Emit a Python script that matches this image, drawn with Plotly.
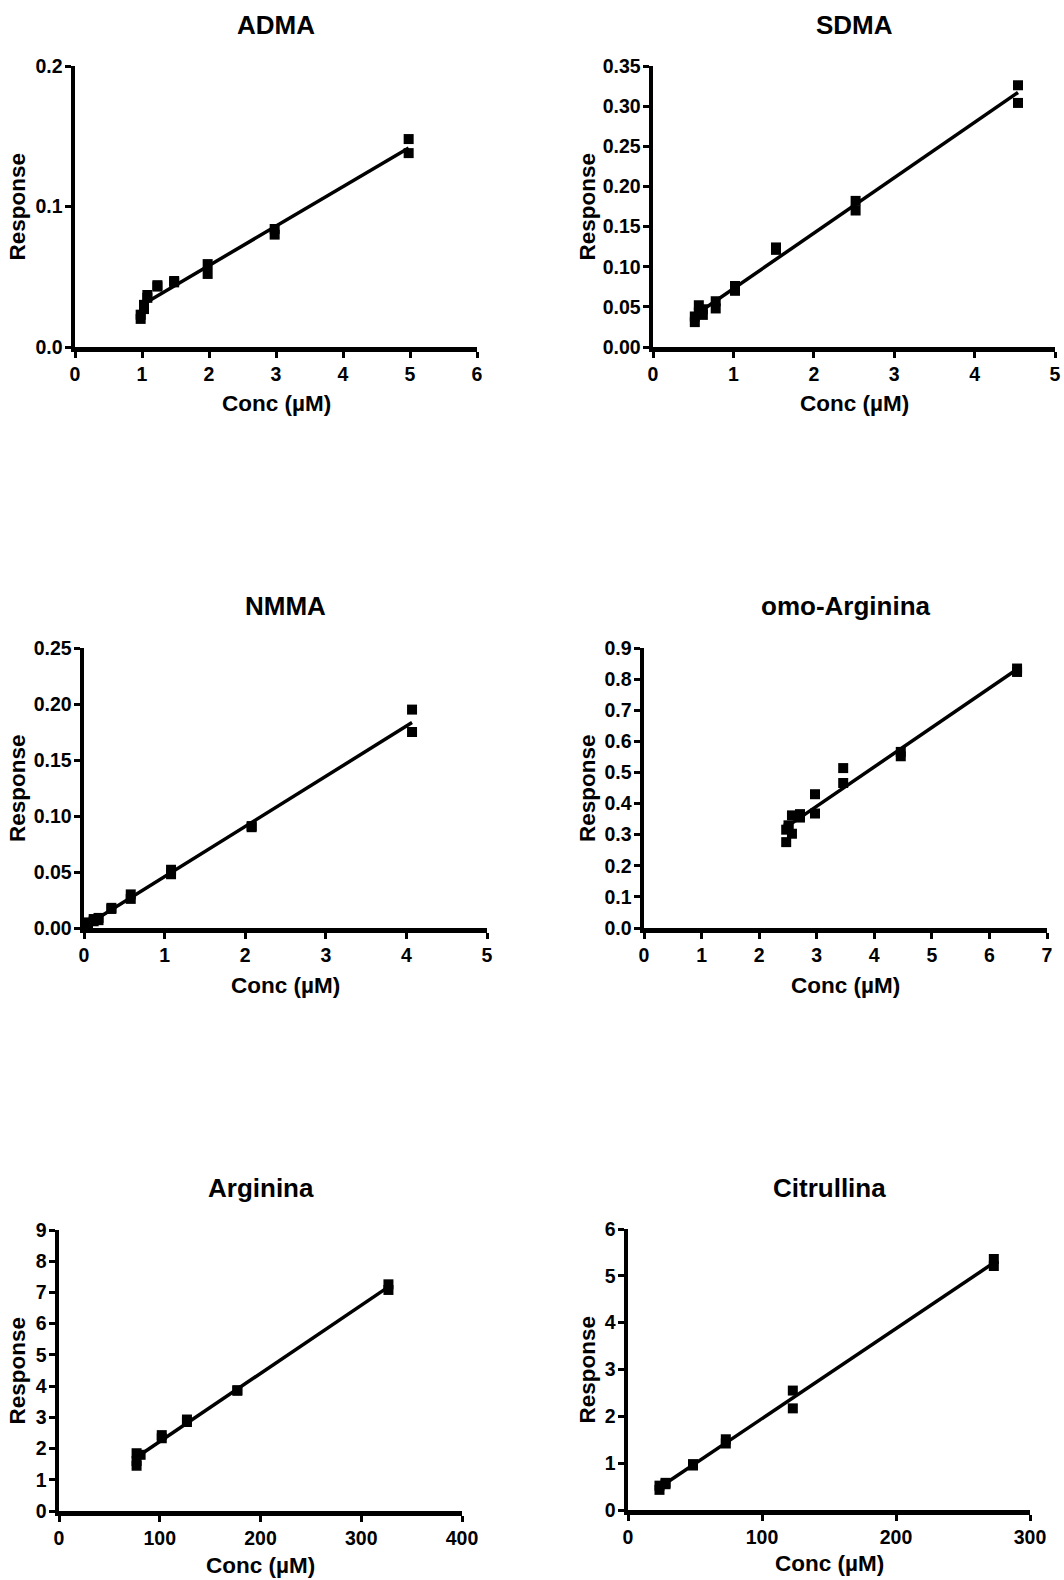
import numpy as np
import plotly.graph_objects as go

# ---------------- data ----------------
titles = ["ADMA", "SDMA", "NMMA", "omo-Arginina", "Arginina", "Citrullina"]
x_label = "Conc (µM)"
y_label = "Response"

adma_conc = [0.98, 0.98, 1.03, 1.03, 1.08, 1.08, 1.23, 1.23, 1.48, 1.48, 1.98, 1.98, 2.98, 2.98, 4.98, 4.98]
adma_resp = [0.020, 0.023, 0.027, 0.030, 0.035, 0.037, 0.043, 0.044, 0.046, 0.047, 0.052, 0.059, 0.080, 0.084, 0.138, 0.148]

sdma_conc = [0.52, 0.52, 0.57, 0.57, 0.62, 0.62, 0.78, 0.78, 1.02, 1.02, 1.53, 1.53, 2.52, 2.52, 4.54, 4.54]
sdma_resp = [0.031, 0.038, 0.043, 0.052, 0.040, 0.047, 0.048, 0.057, 0.070, 0.076, 0.121, 0.124, 0.170, 0.182, 0.304, 0.326]

nmma_conc = [0.05, 0.05, 0.12, 0.12, 0.18, 0.18, 0.34, 0.34, 0.58, 0.58, 1.08, 1.08, 2.08, 2.08, 4.07, 4.07]
nmma_resp = [0.002, 0.005, 0.006, 0.008, 0.007, 0.009, 0.017, 0.018, 0.026, 0.030, 0.048, 0.052, 0.090, 0.091, 0.175, 0.195]

omo_conc = [2.47, 2.47, 2.51, 2.51, 2.57, 2.57, 2.71, 2.71, 2.97, 2.97, 3.46, 3.46, 4.46, 4.46, 6.48, 6.48]
omo_resp = [0.276, 0.316, 0.320, 0.330, 0.303, 0.362, 0.355, 0.366, 0.368, 0.430, 0.466, 0.514, 0.552, 0.566, 0.823, 0.834]

arg_conc = [77, 77, 77, 81, 102, 102, 127, 127, 177, 177, 327, 327]
arg_resp = [1.45, 1.60, 1.85, 1.80, 2.33, 2.43, 2.85, 2.93, 3.85, 3.87, 7.08, 7.26]

cit_conc = [23.5, 23.5, 28, 28, 48.5, 48.5, 73, 73, 123, 123, 273, 273]
cit_resp = [0.43, 0.52, 0.55, 0.58, 0.95, 0.98, 1.42, 1.51, 2.17, 2.55, 5.21, 5.36]

x_ticks = [
    [0, 1, 2, 3, 4, 5, 6],
    [0, 1, 2, 3, 4, 5],
    [0, 1, 2, 3, 4, 5],
    [0, 1, 2, 3, 4, 5, 6, 7],
    [0, 100, 200, 300, 400],
    [0, 100, 200, 300],
]
y_ticks = [
    [0.0, 0.1, 0.2],
    [0.00, 0.05, 0.10, 0.15, 0.20, 0.25, 0.30, 0.35],
    [0.00, 0.05, 0.10, 0.15, 0.20, 0.25],
    [0.0, 0.1, 0.2, 0.3, 0.4, 0.5, 0.6, 0.7, 0.8, 0.9],
    [0, 1, 2, 3, 4, 5, 6, 7, 8, 9],
    [0, 1, 2, 3, 4, 5, 6],
]
y_formats = [".1f", ".2f", ".2f", ".1f", "d", "d"]

series = [
    (adma_conc, adma_resp),
    (sdma_conc, sdma_resp),
    (nmma_conc, nmma_resp),
    (omo_conc, omo_resp),
    (arg_conc, arg_resp),
    (cit_conc, cit_resp),
]

# ---------------- layout (pixel boxes: left, right, top, bottom) ----------------
W, H = 1064, 1580
boxes = [
    (75, 477, 66, 347),
    (653, 1055, 66, 347),
    (84, 487, 648, 928),
    (644, 1047, 648, 928),
    (59, 462, 1230, 1511),
    (628, 1030, 1229, 1510),
]
title_y = [25, 25, 606, 606, 1188, 1188]
xlab_y = [403, 403, 985, 985, 1565, 1563]
ylab_x = [17, 587, 17, 587, 17, 587]

FONT = "Liberation Sans, Arial, Helvetica, sans-serif"


def fx(px):
    return px / W


def fy(py):
    return 1 - py / H


fig = go.Figure()
annotations = []
layout = dict(
    template="none",
    width=W, height=H,
    margin=dict(l=0, r=0, t=0, b=0, pad=0, autoexpand=False),
    paper_bgcolor="white", plot_bgcolor="white",
    showlegend=False,
)

for i, ((xs, ys), box) in enumerate(zip(series, boxes)):
    n = "" if i == 0 else str(i + 1)
    xa, ya = "x" + n, "y" + n
    xs_a = np.array(xs, dtype=float)
    ys_a = np.array(ys, dtype=float)
    slope, icpt = np.polyfit(xs_a, ys_a, 1)
    lx = np.array([xs_a.min(), xs_a.max()])
    fig.add_trace(go.Scatter(x=lx, y=slope * lx + icpt, mode="lines",
                             line=dict(color="black", width=3.5),
                             xaxis=xa, yaxis=ya, hoverinfo="skip"))
    fig.add_trace(go.Scatter(x=xs, y=ys, mode="markers",
                             marker=dict(symbol="square", size=10, color="black",
                                         line=dict(width=0)),
                             xaxis=xa, yaxis=ya, cliponaxis=False))
    l, r, t, b = box
    common = dict(showline=True, linewidth=4.5, linecolor="black",
                  ticks="outside", ticklen=6, tickwidth=3, tickcolor="black",
                  showgrid=False, zeroline=False, fixedrange=True, automargin=False,
                  tickfont=dict(family=FONT, size=19.5, color="black", weight="bold"))
    layout["xaxis" + n] = dict(
        domain=[fx(l), fx(r)], anchor=ya,
        range=[x_ticks[i][0], x_ticks[i][-1]],
        tickvals=x_ticks[i], tickformat="d", **common)
    layout["yaxis" + n] = dict(
        domain=[fy(b), fy(t)], anchor=xa,
        range=[y_ticks[i][0], y_ticks[i][-1]],
        tickvals=y_ticks[i], tickformat=y_formats[i],
        ticklabelstandoff=-2, **common)

    cx = (l + r) / 2
    cy = (t + b) / 2
    annotations.append(dict(text=titles[i], x=fx(cx), y=fy(title_y[i]),
                            xref="paper", yref="paper", showarrow=False,
                            xanchor="center", yanchor="middle",
                            font=dict(family=FONT, size=26, color="black", weight="bold")))
    annotations.append(dict(text=x_label, x=fx(cx), y=fy(xlab_y[i]),
                            xref="paper", yref="paper", showarrow=False,
                            xanchor="center", yanchor="middle",
                            font=dict(family=FONT, size=22.5, color="black", weight="bold")))
    annotations.append(dict(text=y_label, x=fx(ylab_x[i]), y=fy(cy),
                            xref="paper", yref="paper", showarrow=False,
                            textangle=-90, xanchor="center", yanchor="middle",
                            font=dict(family=FONT, size=22.5, color="black", weight="bold")))

layout["annotations"] = annotations
fig.update_layout(**layout)
fig.write_html(
    "out.html",
    config={"displayModeBar": False, "staticPlot": True},
    post_script="document.body.style.margin='0';document.body.style.padding='0';"
                "document.body.style.overflow='hidden';",
)
